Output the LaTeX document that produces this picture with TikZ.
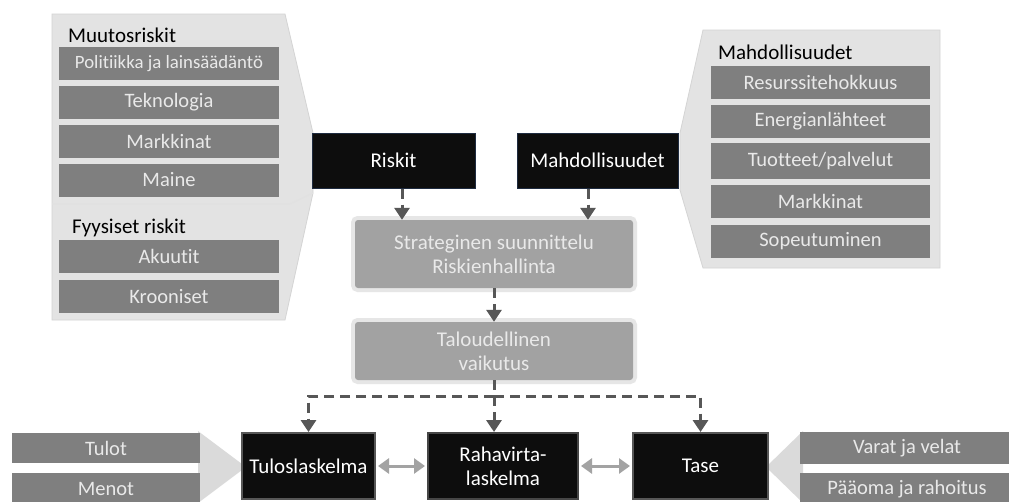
\documentclass[tikz,border=0pt]{standalone}
\usepackage{fontspec}
\setmainfont{Carlito}[Ligatures=NoCommon]
\usetikzlibrary{arrows.meta}
\definecolor{panelgray}{HTML}{E3E3E3}
\definecolor{paneledge}{HTML}{D4D4D4}
\definecolor{bargray}{HTML}{7F7F7F}
\definecolor{bartext}{HTML}{E9E9E9}
\definecolor{midgray}{HTML}{A2A2A2}
\definecolor{halo}{HTML}{E6E6E6}
\definecolor{boxblack}{HTML}{0D0D0D}
\definecolor{navyedge}{HTML}{1E2B40}
\definecolor{arrowgray}{HTML}{575757}
\definecolor{dblgray}{HTML}{A3A3A3}
\definecolor{chevgray}{HTML}{DADADA}
\begin{document}
\begin{tikzpicture}[x=1pt,y=-1pt,
  bar/.style={fill=bargray, text=bartext, minimum width=220pt, minimum height=33pt, inner sep=0pt, font=\fontsize{20.5}{24}\selectfont},
  headtext/.style={anchor=west, text=black, inner sep=0pt, font=\fontsize{21}{24}\selectfont},
  blackbox/.style={fill=boxblack, draw=navyedge, line width=1pt, text=white, inner sep=0pt, minimum height=55pt, font=\fontsize{21}{24}\selectfont},
  finbox/.style={fill=boxblack, draw=#1, line width=2pt, text=white, inner sep=0pt, minimum height=66pt, align=center, font=\fontsize{21}{24}\selectfont},
  graybox/.style={fill=midgray, text=bartext, rounded corners=3pt, inner sep=0pt, minimum width=278pt, align=center, font=\fontsize{21}{24}\selectfont, preaction={draw=halo, line width=8pt, rounded corners=5pt}},
  dasharr/.style={draw=arrowgray, line width=3pt, dash pattern=on 10pt off 6pt, -{Triangle[width=15pt,length=12pt]}, arrowgray},
  dbl/.style={draw=dblgray, line width=3pt, {Triangle[width=15pt,length=11pt]}-{Triangle[width=15pt,length=11pt]}, shorten <=2pt, shorten >=2pt},
]
\useasboundingbox (0,0) rectangle (1009,501);
\fill[white] (0,0) rectangle (1009,501);

% ---------- left panel ----------
\filldraw[fill=panelgray, draw=paneledge, line width=0.8pt] (52,14) -- (285,14) -- (313,133) -- (313,193) -- (285,320) -- (52,320) -- cycle;
\draw[paneledge!70!white, line width=1.2pt] (52,204) -- (290,204) -- (313,193);
\node[headtext] (muutos) at (68,35) {Muutosriskit};
\node[bar, font=\fontsize{18.8}{24}\selectfont] (pol) at (169,63.5) {Politiikka ja lainsäädäntö};
\node[bar] (tek) at (169,102.5) {Teknologia};
\node[bar] (mark) at (169,141.5) {Markkinat};
\node[bar] (maine) at (169,180) {Maine};
\node[headtext] (fyys) at (72,228) {Fyysiset riskit};
\node[bar] (akuu) at (169,256.5) {Akuutit};
\node[bar] (kroo) at (169,296.5) {Krooniset};

% ---------- right panel ----------
\filldraw[fill=panelgray, draw=paneledge, line width=0.8pt] (703,30) -- (940,30) -- (940,268) -- (703,268) -- (680,190) -- (680,133) -- cycle;
\node[headtext] (mahdh) at (718,52) {Mahdollisuudet};
\node[bar, minimum width=219pt] (res) at (820.5,82) {Resurssitehokkuus};
\node[bar, minimum width=219pt] (ene) at (820.5,121) {Energianlähteet};
\node[bar, minimum width=219pt, minimum height=36pt] (tuot) at (820.5,161) {Tuotteet/palvelut};
\node[bar, minimum width=219pt] (mark2) at (820.5,201.5) {Markkinat};
\node[bar, minimum width=219pt] (sope) at (820.5,241) {Sopeutuminen};

% ---------- top black boxes ----------
\node[blackbox, minimum width=163pt] (riskit) at (393.5,160.5) {Riskit};
\node[blackbox, minimum width=161pt] (mahd) at (597.5,160.5) {Mahdollisuudet};

% ---------- middle gray boxes ----------
\node[graybox, minimum height=68pt] (strat) at (494,254) {Strateginen suunnittelu\\Riskienhallinta};
\node[graybox, minimum height=58pt] (talo) at (494,351) {Taloudellinen\\vaikutus};

% ---------- bottom chevrons ----------
\fill[chevgray] (198,431) -- (246,467) -- (198,503) -- cycle;
\fill[chevgray] (803,431) -- (766,467) -- (803,503) -- cycle;

% ---------- bottom bars ----------
\node[bar, minimum width=188pt, minimum height=30pt] (tulot) at (106,448) {Tulot};
\node[bar, minimum width=188pt, minimum height=32pt] (menot) at (106,489) {Menot};
\node[bar, minimum width=214pt, minimum height=32pt] (varat) at (907,448) {Varat ja velat};
\node[bar, minimum width=214pt, minimum height=32pt] (paaoma) at (907,489) {Pääoma ja rahoitus};

% ---------- bottom black boxes ----------
\node[finbox=arrowgray, minimum width=133pt] (tulos) at (308.5,466) {Tuloslaskelma};
\node[finbox=arrowgray!80!black, minimum width=150pt] (rahav) at (503,466) {Rahavirta-\\laskelma};
\node[finbox=arrowgray, minimum width=135pt] (tase) at (700.5,466) {Tase};

% ---------- connectors ----------
\coordinate (ra) at (402,0);
\coordinate (ma) at (588,0);
\coordinate (jn) at (494,396);
\draw[dasharr] (riskit.south -| ra) -- (strat.north -| ra);
\draw[dasharr] (mahd.south -| ma) -- (strat.north -| ma);
\draw[dasharr] (strat.south) -- (talo.north);
\draw[dasharr] (talo.south) -- (talo.south |- rahav.north);
\draw[dasharr] (jn) -| (tulos.north);
\draw[dasharr] (jn) -| (tase.north);
\draw[dbl] (tulos.east) -- (rahav.west);
\draw[dbl] (rahav.east) -- (tase.west);
\end{tikzpicture}
\end{document}
